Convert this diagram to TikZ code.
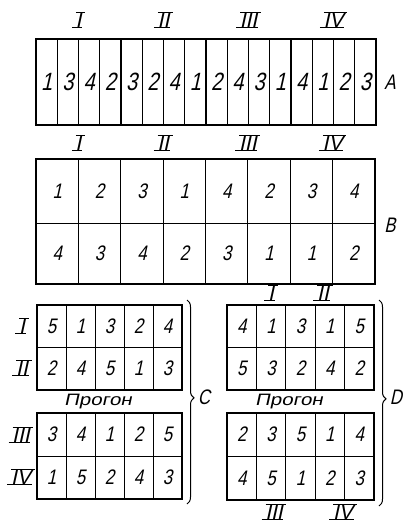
\documentclass[tikz,border=0pt]{standalone}
\usepackage{fontspec}
\usepackage{graphicx}
\usetikzlibrary{decorations.pathreplacing}
\newfontfamily\drawfont[FakeSlant=0.22,FakeStretch=0.8]{Liberation Sans}
\newfontfamily\romfont[FakeSlant=0.22]{Liberation Sans}
\newfontfamily\progfont[FakeSlant=0.22,FakeStretch=1.25]{Liberation Sans}
\tikzset{
  outer/.style={line width=1.7pt},
  thin/.style={line width=0.8pt},
  grp/.style={line width=1.3pt},
  digA/.style={font=\drawfont\fontsize{25}{25}\selectfont, inner sep=0pt},
  digB/.style={font=\drawfont\fontsize{21}{21}\selectfont, inner sep=0pt},
  lbl/.style={font=\drawfont\fontsize{21}{21}\selectfont, inner sep=0pt},
  rom/.style={font=\romfont\fontsize{21}{21}\selectfont, inner xsep=1.5pt, inner ysep=0pt, text height=15pt, text depth=0pt},
  romline/.style={line width=1.1pt},
  prog/.style={font=\progfont\fontsize{16.5}{16.5}\selectfont, inner sep=0pt},
  bracestyle/.style={line width=1pt, decorate, decoration={brace, amplitude=7pt, aspect=0.48}}
}
\newcommand\romnum[3]{%
  \node[rom] (#1) at (#2) {#3};
  \draw[romline] ([xshift=2pt]#1.north west) -- ([xshift=2pt]#1.north east);
  \draw[romline] ([xshift=-2pt]#1.south west) -- ([xshift=-1pt]#1.south east);
}
\begin{document}
\begin{tikzpicture}[x=1pt,y=-1pt]
\useasboundingbox (0,0) rectangle (406,524);
% ---------------- A ----------------
\foreach \k in {1,2,3,5,6,7,9,10,11,13,14,15}
  \draw[thin] ({36+\k*21.25},39) -- ({36+\k*21.25},125);
\foreach \k in {4,8,12}
  \draw[grp] ({36+\k*21.25},39) -- ({36+\k*21.25},125);
\draw[outer] (36,39) rectangle (376,125);
\foreach \d [count=\i] in {1,3,4,2,3,2,4,1,2,4,3,1,4,1,2,3}
  \node[digA] (a\i) at ({36+(\i-0.5)*21.25},82) {\d};
\romnum{aI}{78.5,20}{I}
\romnum{aII}{163.5,20}{II}
\romnum{aIII}{248.5,20}{III}
\romnum{aIV}{333.5,20}{IV}
\node[lbl] (labA) at (390,82) {A};
% ---------------- B ----------------
\draw[thin] (36,223) -- (375,223);
\foreach \k in {1,3,5,7}
  \draw[thin] ({36+\k*42.375},159) -- ({36+\k*42.375},284);
\foreach \k in {2,4,6}
  \draw[grp] ({36+\k*42.375},159) -- ({36+\k*42.375},284);
\draw[outer] (36,159) rectangle (375,284);
\foreach \d [count=\i] in {1,2,3,1,4,2,3,4}
  \node[digB] (bt\i) at ({36+(\i-0.5)*42.375},191) {\d};
\foreach \d [count=\i] in {4,3,4,2,3,1,1,2}
  \node[digB] (bb\i) at ({36+(\i-0.5)*42.375},253.5) {\d};
\romnum{bI}{78.4,143}{I}
\romnum{bII}{163.1,143}{II}
\romnum{bIII}{247.9,143}{III}
\romnum{bIV}{332.6,143}{IV}
\node[lbl] (labB) at (390,225) {B};
% ---------------- C ----------------
\foreach \y/\yy in {305/390,413/499}{
  \draw[thin] (37,{(\y+\yy)/2}) -- (182,{(\y+\yy)/2});
  \foreach \k in {1,...,4}
    \draw[thin] ({37+\k*29},\y) -- ({37+\k*29},\yy);
  \draw[outer] (37,\y) rectangle (182,\yy);
}
\foreach \d [count=\i] in {5,1,3,2,4}
  \node[digB] (c1\i) at ({37+(\i-0.5)*29},326) {\d};
\foreach \d [count=\i] in {2,4,5,1,3}
  \node[digB] (c2\i) at ({37+(\i-0.5)*29},368.5) {\d};
\foreach \d [count=\i] in {3,4,1,2,5}
  \node[digB] (c3\i) at ({37+(\i-0.5)*29},434.5) {\d};
\foreach \d [count=\i] in {1,5,2,4,3}
  \node[digB] (c4\i) at ({37+(\i-0.5)*29},477.5) {\d};
\romnum{cI}{22,326}{I}
\romnum{cII}{22,368}{II}
\romnum{cIII}{21,435}{III}
\romnum{cIV}{21,477}{IV}
\node[prog] (progC) at (98,402) {Прогон};
\coordinate (cTop) at (187,300);
\coordinate (cBot) at (187,504);
\draw[bracestyle] (cTop) -- (cBot);
\node[lbl] (labC) at (204,397) {C};
% ---------------- D ----------------
\foreach \y/\yy in {305/390,413/500}{
  \draw[thin] (227,{(\y+\yy)/2}) -- (374,{(\y+\yy)/2});
  \foreach \k in {1,...,4}
    \draw[thin] ({227+\k*29.4},\y) -- ({227+\k*29.4},\yy);
  \draw[outer] (227,\y) rectangle (374,\yy);
}
\foreach \d [count=\i] in {4,1,3,1,5}
  \node[digB] (d1\i) at ({227+(\i-0.5)*29.4},326) {\d};
\foreach \d [count=\i] in {5,3,2,4,2}
  \node[digB] (d2\i) at ({227+(\i-0.5)*29.4},368.5) {\d};
\foreach \d [count=\i] in {2,3,5,1,4}
  \node[digB] (d3\i) at ({227+(\i-0.5)*29.4},434.5) {\d};
\foreach \d [count=\i] in {4,5,1,2,3}
  \node[digB] (d4\i) at ({227+(\i-0.5)*29.4},478) {\d};
\romnum{dI}{271,293}{I}
\romnum{dII}{323,293}{II}
\romnum{dIII}{274,512}{III}
\romnum{dIV}{343,512}{IV}
\node[prog] (progD) at (289,402) {Прогон};
\coordinate (dTop) at (379,300);
\coordinate (dBot) at (379,506);
\draw[bracestyle] (dTop) -- (dBot);
\node[lbl] (labD) at (396,397) {D};
\end{tikzpicture}
\end{document}
